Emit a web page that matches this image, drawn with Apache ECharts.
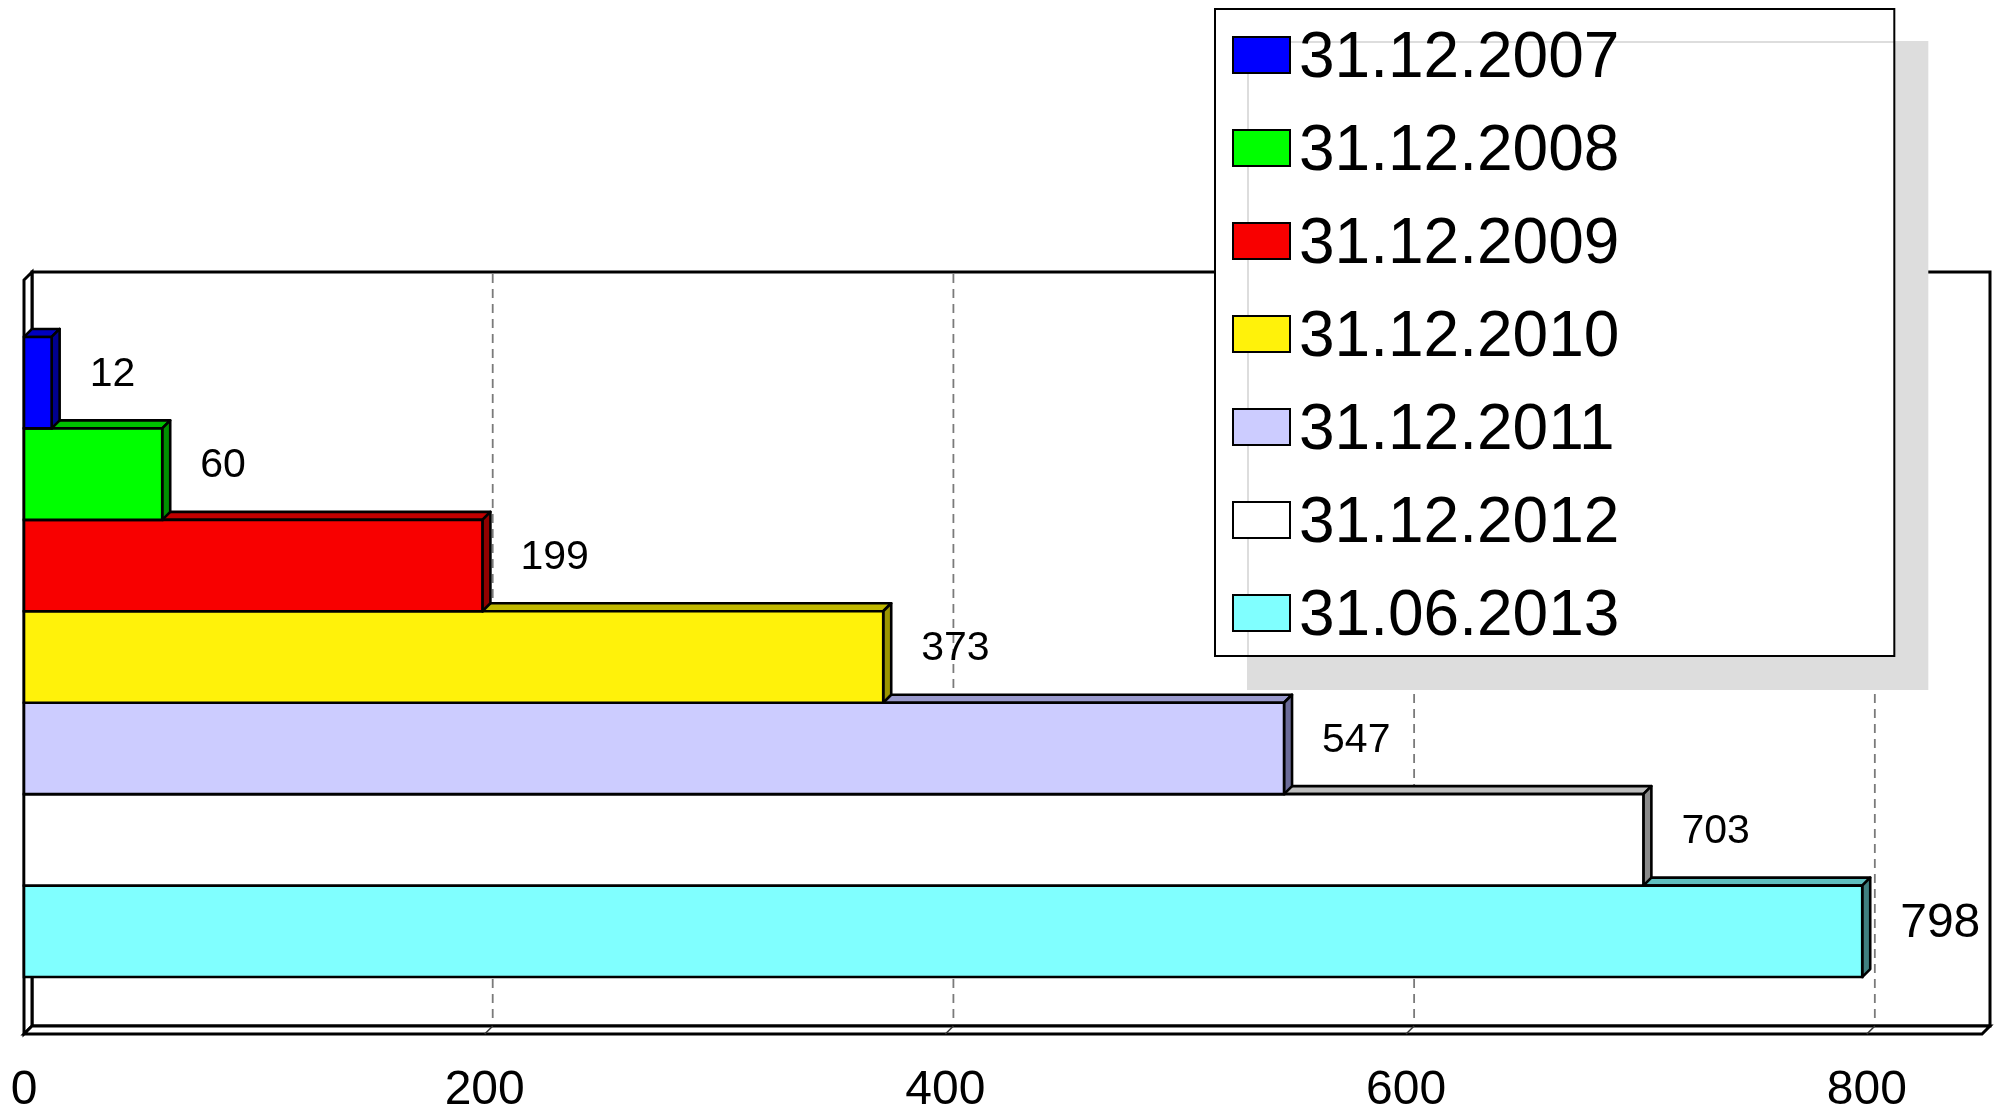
<!DOCTYPE html>
<html><head><meta charset="utf-8">
<script src="https://cdn.jsdelivr.net/npm/echarts@6/dist/echarts.min.js"></script>
<style>html,body{margin:0;padding:0;background:#fff}#c{width:2002px;height:1116px}</style>
</head><body><div id="c"></div>
<script>
const categories = ['31.12.2007','31.12.2008','31.12.2009','31.12.2010','31.12.2011','31.12.2012','31.06.2013'];
const values = [12, 60, 199, 373, 547, 703, 798];
const tickValues = [0, 200, 400, 600, 800];
const axisMax = 850;

const frontColors = ['#0000ff','#00ff00','#f80000','#fff20a','#ccccff','#ffffff','#80ffff'];
const topColors   = ['#0000c0','#00c000','#c00000','#c0b800','#9999cc','#bdbdbd','#5fbfbf'];
const sideColors  = ['#000090','#009000','#900000','#9a9400','#6b6b99','#8a8a8a','#408080'];
const labelSizes  = [41, 41, 41, 41, 41, 41, 48];
const FONT = "'Liberation Sans', Arial, Helvetica, sans-serif";
const DEPTH = 8;
const CAT_GAP = 0.151;

function renderFrame(params, api) {
  const cs = params.coordSys;
  const x = cs.x, y = cs.y, w = cs.width, h = cs.height, d = DEPTH;
  const st = {fill:'#fff', stroke:'#000', lineWidth:3, lineJoin:'miter'};
  const children = [
    {type:'rect', shape:{x:x+d, y:y-d, width:w, height:h}, style:Object.assign({}, st)},
    {type:'polygon', shape:{points:[[x,y],[x+d,y-d],[x+d,y+h-d],[x,y+h]]}, style:Object.assign({}, st)},
    {type:'polygon', shape:{points:[[x,y+h],[x+d,y+h-d],[x+w+d,y+h-d],[x+w,y+h]]}, style:Object.assign({}, st)}
  ];
  tickValues.forEach(function (v) {
    if (v === 0) return;
    const px = api.coord([v, 0])[0];
    children.push({type:'line', shape:{x1:px+d, y1:y-d+2, x2:px+d, y2:y+h-d-2},
      style:{stroke:'#7a7a7a', lineWidth:1.8, lineDash:[9,6]}});
    children.push({type:'line', shape:{x1:px+d, y1:y+h-d, x2:px, y2:y+h},
      style:{stroke:'#333', lineWidth:1.5}});
  });
  return {type:'group', children: children};
}

function makeBarRenderer(idx) {
  return function (params, api) {
    const val = api.value(0);
    const cat = api.value(1);
    const base = api.coord([0, cat]);
    const end = api.coord([val, cat]);
    const band = api.size([0, 1])[1];
    const total = band * (1 - CAT_GAP);
    const bh = total / categories.length;
    const top = base[1] - total / 2 + idx * bh;
    const x0 = base[0], x1 = end[0], d = DEPTH;
    const lw = 2.6;
    return {type:'group', children:[
      {type:'polygon', shape:{points:[[x0,top],[x0+d,top-d],[x1+d,top-d],[x1,top]]},
        style:{fill:topColors[idx], stroke:'#000', lineWidth:lw, lineJoin:'round'}},
      {type:'polygon', shape:{points:[[x1,top],[x1+d,top-d],[x1+d,top+bh-d],[x1,top+bh]]},
        style:{fill:sideColors[idx], stroke:'#000', lineWidth:lw, lineJoin:'round'}},
      {type:'rect', shape:{x:x0, y:top, width:x1-x0, height:bh},
        style:{fill:frontColors[idx], stroke:'#000', lineWidth:lw}},
      {type:'text', style:{text:String(val), x:x1+d+30, y:top+bh/2-d,
        fontSize:labelSizes[idx], fontFamily:FONT, fill:'#000', align:'left', verticalAlign:'middle'}}
    ]};
  };
}

const series = [{
  type:'custom', name:'frame', z:1, clip:false, silent:true,
  renderItem: renderFrame, data:[[0, 0]], encode:{x:0, y:1}
}];
categories.forEach(function (name, i) {
  series.push({
    type:'custom', name:name, z:10 + (categories.length - i), clip:false, silent:true,
    itemStyle:{color:frontColors[i]},
    renderItem: makeBarRenderer(i),
    data:[[values[i], 0]], encode:{x:0, y:1}
  });
});

const chart = echarts.init(document.getElementById('c'), null, {renderer:'canvas'});
chart.setOption({
  animation:false,
  backgroundColor:'#fff',
  grid:{left:24, top:280, width:1958, height:754},
  xAxis:{type:'value', min:0, max:axisMax, interval:200,
    axisLine:{show:false}, axisTick:{show:false}, splitLine:{show:false},
    axisLabel:{customValues:tickValues, fontSize:48, color:'#000', fontFamily:FONT, margin:33}},
  yAxis:{type:'category', data:['all'], show:false},
  legend:{
    data:categories, orient:'vertical', left:1215, top:9,
    icon:'rect', itemWidth:57, itemHeight:36, itemGap:29,
    padding:[18, 275, 7, 17],
    backgroundColor:'#fff', borderColor:'#000', borderWidth:2,
    shadowColor:'#dddddd', shadowOffsetX:33, shadowOffsetY:33, shadowBlur:0,
    formatter: function (name) { return '{t|' + name + '}'; },
    textStyle:{fontSize:64, color:'#000', fontFamily:FONT,
      rich:{t:{fontSize:64, color:'#000', fontFamily:FONT, padding:[8, 0, 0, 4]}}},
    itemStyle:{borderColor:'#000', borderWidth:2},
    selectedMode:false
  },
  series: series
});
</script></body></html>
